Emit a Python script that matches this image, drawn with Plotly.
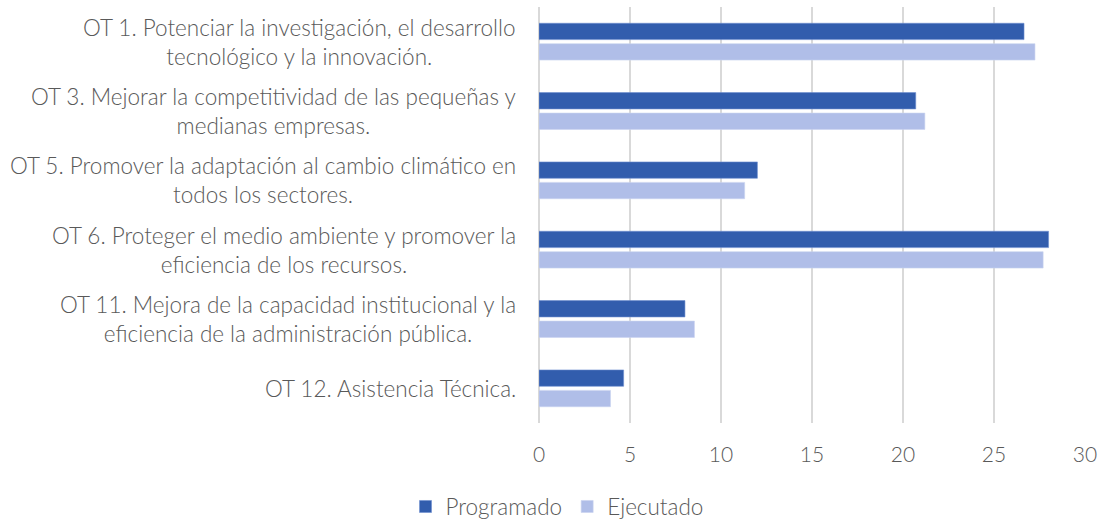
import plotly.graph_objects as go

categories = [
    "OT 1. Potenciar la investigación, el desarrollo<br>tecnológico y la innovación.",
    "OT 3. Mejorar la competitividad de las pequeñas y<br>medianas empresas.",
    "OT 5. Promover la adaptación al cambio climático en<br>todos los sectores.",
    "OT 6. Proteger el medio ambiente y promover la<br>eficiencia de los recursos.",
    "OT 11. Mejora de la capacidad institucional y la<br>eficiencia de la administración pública.",
    "OT 12. Asistencia Técnica.",
]
programado = [26.65, 20.7, 12.0, 28.0, 8.02, 4.65]
ejecutado = [27.25, 21.2, 11.3, 27.7, 8.54, 3.93]
x_ticks = [0, 5, 10, 15, 20, 25, 30]

FONT = "Lato"
GREY = "#595959"
LBL = dict(family=FONT, size=22.5, color=GREY, weight=300)

fig = go.Figure()
fig.add_trace(go.Bar(
    y=categories, x=programado, name="Programado", orientation="h",
    marker=dict(color="#325DAD", line=dict(color="#6F8FD0", width=0.6)),
))
fig.add_trace(go.Bar(
    y=categories, x=ejecutado, name="Ejecutado", orientation="h",
    marker=dict(color="#B0BEE8", line=dict(color="#C9D3F0", width=0.6)),
))

for c in categories:
    fig.add_annotation(
        x=0, xref="paper", y=c, yref="y", text=c, showarrow=False,
        xanchor="right", yanchor="middle", align="center", xshift=-21,
        font=LBL,
    )

fig.update_layout(
    width=1103, height=522,
    margin=dict(l=539, r=18, t=7, b=99),
    paper_bgcolor="white", plot_bgcolor="white",
    barmode="group", bargap=0.41, bargroupgap=0.2,
    font=LBL,
    showlegend=True,
    legend=dict(orientation="h", xref="container", x=0.505, xanchor="center",
                yref="container", y=0.029, yanchor="middle",
                font=LBL, itemwidth=30, traceorder="normal"),
    xaxis=dict(range=[0, 30], tickvals=x_ticks, showgrid=True, gridcolor="#D9D9D9",
               gridwidth=1.5, zeroline=True, zerolinecolor="#D9D9D9", zerolinewidth=1.5,
               showline=False, ticks="", ticklabelstandoff=17,
               tickfont=dict(family=FONT, size=21, color=GREY, weight=300)),
    yaxis=dict(autorange="reversed", showticklabels=False, showgrid=False,
               zeroline=False, showline=False, ticks=""),
)

fig.write_html("out.html", config={"displayModeBar": False})
with open("out.html", "r", encoding="utf-8") as f:
    html = f.read()
html = html.replace("<body>", '<body style="margin:0;overflow:hidden">', 1)
with open("out.html", "w", encoding="utf-8") as f:
    f.write(html)
